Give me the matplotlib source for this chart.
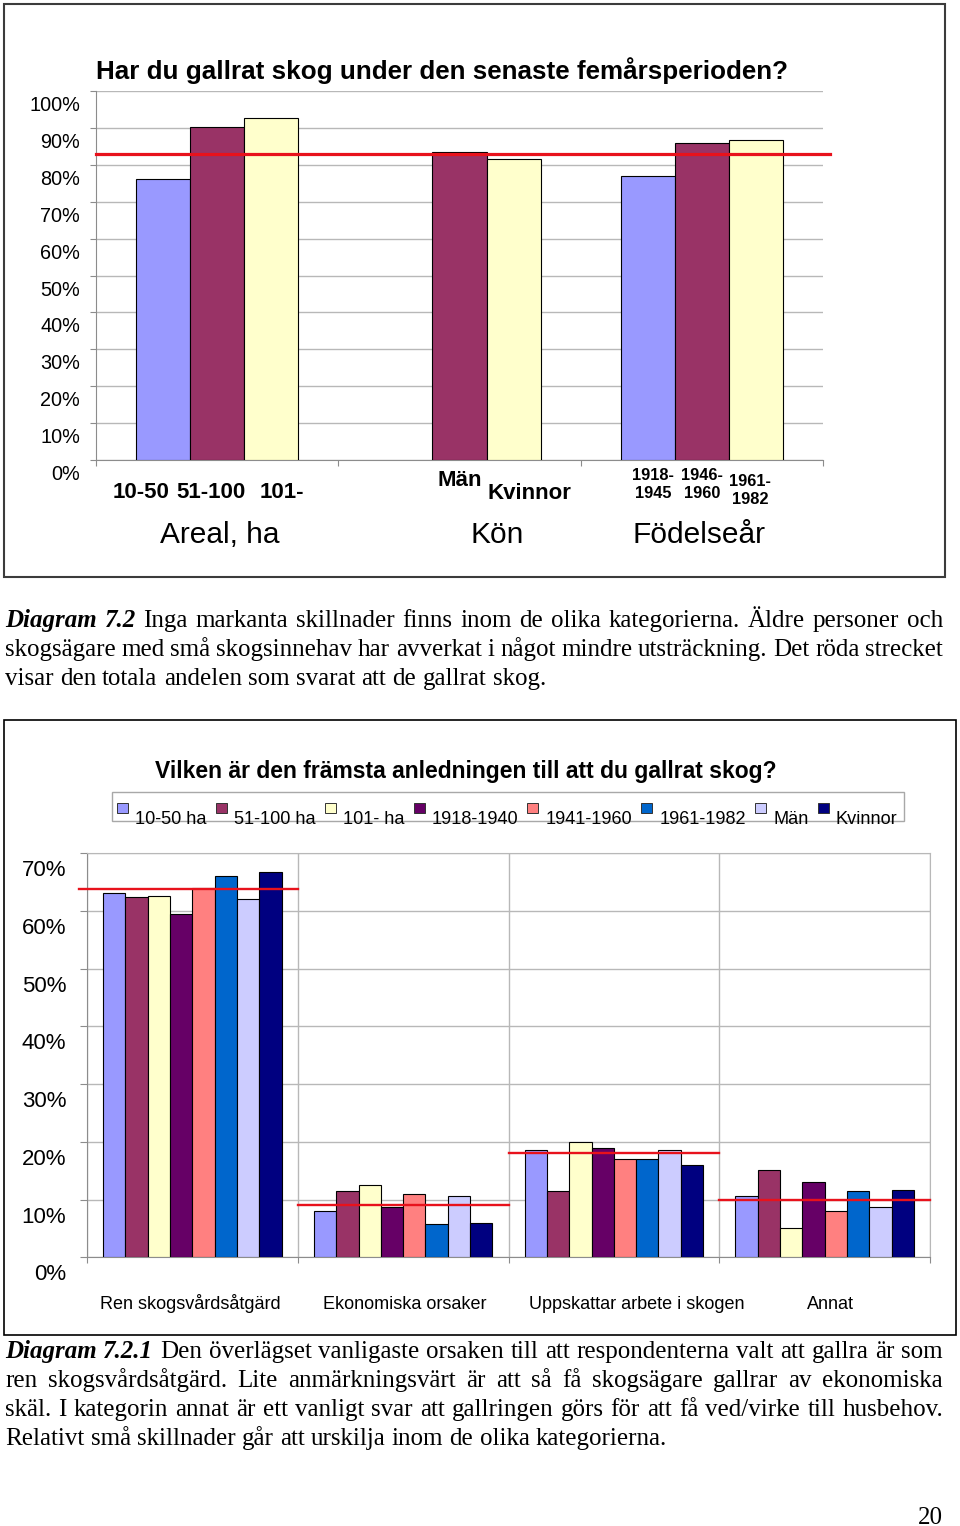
import numpy as np
import matplotlib
matplotlib.use("Agg")
import matplotlib.pyplot as plt
from matplotlib.patches import Rectangle
from matplotlib.transforms import ScaledTranslation, blended_transform_factory

plt.rcParams["font.family"] = ["Liberation Sans", "DejaVu Sans"]

W, H = 960, 1526

# ---- top chart data ----
top_title = "Har du gallrat skog under den senaste femårsperioden?"
top_groups = ["Areal, ha", "Kön", "Födelseår"]
top_labels = [["10-50", "51-100", "101-"],
              ["", "Män", "Kvinnor"],
              ["1918-\n1945", "1946-\n1960", "1961-\n1982"]]
top_values = [[76.2, 90.2, 92.8],
              [np.nan, 83.4, 81.5],
              [77.0, 85.8, 86.6]]
top_total = 83.0
top_colors = ["#9999FF", "#993366", "#FFFFCC"]

# ---- bottom chart data ----
bottom_title = "Vilken är den främsta anledningen till att du gallrat skog?"
reasons = ["Ren skogsvårdsåtgärd", "Ekonomiska orsaker",
           "Uppskattar arbete i skogen", "Annat"]
series = ["10-50 ha", "51-100 ha", "101- ha", "1918-1940",
          "1941-1960", "1961-1982", "Män", "Kvinnor"]
ha_10_50 = [63.0, 8.1, 18.6, 10.6]
ha_51_100 = [62.3, 11.5, 11.5, 15.1]
ha_101 = [62.5, 12.6, 19.9, 5.1]
born_1918_1940 = [59.5, 8.7, 19.0, 13.1]
born_1941_1960 = [63.9, 10.9, 17.1, 8.0]
born_1961_1982 = [66.0, 5.7, 17.0, 11.5]
men = [62.1, 10.6, 18.6, 8.7]
women = [66.7, 5.9, 16.0, 11.6]
totals = [63.8, 9.1, 18.0, 10.0]
series_values = [ha_10_50, ha_51_100, ha_101, born_1918_1940,
                 born_1941_1960, born_1961_1982, men, women]
series_colors = ["#9999FF", "#993366", "#FFFFCC", "#660066",
                 "#FF8080", "#0066CC", "#CCCCFF", "#000080"]

# ---- caption text ----
caption1 = [
    ([("Diagram 7.2", "bi"), (" Inga markanta skillnader finns inom de olika kategorierna. Äldre personer och", "r")], True),
    ([("skogsägare med små skogsinnehav har avverkat i något mindre utsträckning. Det röda strecket", "r")], True),
    ([("visar den totala andelen som svarat att de gallrat skog.", "r")], False),
]
caption2 = [
    ([("Diagram 7.2.1", "bi"), (" Den överlägset vanligaste orsaken till att respondenterna valt att gallra är som", "r")], True),
    ([("ren skogsvårdsåtgärd. Lite anmärkningsvärt är att så få skogsägare gallrar av ekonomiska", "r")], True),
    ([("skäl. I kategorin annat är ett vanligt svar att gallringen görs för att få ved/virke till husbehov.", "r")], True),
    ([("Relativt små skillnader går att urskilja inom de olika kategorierna.", "r")], False),
]

RED = "#e8121c"
GRID = "#b8b8b8"
AXC = "#8c8c8c"


def fy(py):
    return 1 - py / H


def rect(l, t, r, b):
    return [l / W, 1 - b / H, (r - l) / W, (b - t) / H]


def shift_ylabels(ax, dy_px):
    off = ScaledTranslation(0, -dy_px / 100, fig.dpi_scale_trans)
    for lab in ax.get_yticklabels():
        lab.set_transform(lab.get_transform() + off)


fig = plt.figure(figsize=(W / 100, H / 100), dpi=100)
fig.patch.set_facecolor("white")

# ================= top chart =================
fig.add_artist(Rectangle((4 / W, fy(577)), 941 / W, 573 / H, transform=fig.transFigure,
                         fill=False, ec="#3c3c3c", lw=1.5))
fig.text(96 / W, fy(79.5), top_title, fontsize=18.7, weight="bold", va="baseline")

ax1 = fig.add_axes(rect(96, 91, 823, 460))
x = np.arange(len(top_groups))
w = 0.2231
for k in range(3):
    vals = [top_values[g][k] for g in range(len(top_groups))]
    ax1.bar(x + (k - 1) * w, vals, w, color=top_colors[k], edgecolor="black", lw=0.8, zorder=3)
ax1.plot([-0.5, 2.53], [top_total, top_total], color=RED, lw=2.3, clip_on=False, zorder=4)

ax1.set_xlim(-0.5, 2.5)
ax1.set_ylim(0, 100)
ax1.set_yticks(range(0, 101, 10))
ax1.set_yticklabels([f"{v}%" for v in range(0, 101, 10)])
ax1.set_xticks([-0.5, 0.5, 1.5, 2.5])
ax1.set_xticklabels([])
ax1.yaxis.grid(True, color=GRID, lw=1)
ax1.set_axisbelow(True)
for s in ["top", "right"]:
    ax1.spines[s].set_visible(False)
for s in ["left", "bottom"]:
    ax1.spines[s].set_color(AXC)
ax1.tick_params(axis="y", length=4.3, color=AXC, pad=7.2, labelsize=14.3)
ax1.tick_params(axis="x", length=4.3, color=AXC)
shift_ylabels(ax1, 12.5)

tr1 = blended_transform_factory(ax1.transData, fig.transFigure)
sub_spacing = [0.29, 0.29, 0.2]
sub_shift = [-0.025, 0.0, 0.0]
sub_base = [498, 486, 480]
sub_drop = [[0, 0, 0], [0, 0, 13], [0, 0, 6]]
sub_size = [16, 16, 11.8]
for g in range(len(top_groups)):
    for k, lab in enumerate(top_labels[g]):
        if not lab:
            continue
        xc = g + sub_shift[g] + (k - 1) * sub_spacing[g]
        for li, line in enumerate(lab.split("\n")):
            yb = sub_base[g] + sub_drop[g][k] + li * 18
            ax1.text(xc, fy(yb), line, transform=tr1, ha="center", va="baseline",
                     fontsize=sub_size[g], weight="bold")

group_shift = [0.01, 0.155, -0.01]
for g, name in enumerate(top_groups):
    ax1.text(g + group_shift[g], fy(543), name, transform=tr1, ha="center",
             va="baseline", fontsize=21.5)

# ================= bottom chart =================
fig.add_artist(Rectangle((4 / W, fy(1335)), 952 / W, 615 / H, transform=fig.transFigure,
                         fill=False, ec="black", lw=1.2))
fig.text(466 / W, fy(778), bottom_title, fontsize=16.5, weight="bold", ha="center", va="baseline")

ax2 = fig.add_axes(rect(87, 853, 930, 1257.3))
x2 = np.arange(len(reasons))
w2 = 0.1058
for k, vals in enumerate(series_values):
    ax2.bar(x2 + (k - 3.5) * w2, vals, w2, color=series_colors[k], edgecolor="black",
            lw=0.8, zorder=3, label=series[k])
for i, t in enumerate(totals):
    left = i - 0.5 - (0.04 if i == 0 else 0)
    ax2.plot([left, i + 0.5], [t, t], color=RED, lw=1.7, clip_on=False, zorder=4)

ax2.set_xlim(-0.5, 3.5)
ax2.set_ylim(0, 70)
ax2.set_yticks(range(0, 71, 10))
ax2.set_yticklabels([f"{v}%" for v in range(0, 71, 10)])
ax2.set_xticks([-0.5, 0.5, 1.5, 2.5, 3.5])
ax2.set_xticklabels([])
ax2.grid(True, color=GRID, lw=1)
ax2.set_axisbelow(True)
for s in ["top", "right"]:
    ax2.spines[s].set_color(GRID)
for s in ["left", "bottom"]:
    ax2.spines[s].set_color(AXC)
ax2.tick_params(axis="y", length=5, color=AXC, pad=10, labelsize=16)
ax2.tick_params(axis="x", length=4, color=AXC)
shift_ylabels(ax2, 15)

tr2 = blended_transform_factory(ax2.transData, fig.transFigure)
reason_shift = [-0.01, 0.01, 0.11, 0.03]
for i, r in enumerate(reasons):
    ax2.text(i + reason_shift[i], fy(1309), r, transform=tr2, ha="center",
             va="baseline", fontsize=13)

renderer = fig.canvas.get_renderer()


def text_width(s, **kw):
    t = fig.text(0, 0, s, **kw)
    wd = t.get_window_extent(renderer).width
    t.remove()
    return wd


# legend drawn by hand, Excel style
LEG = 13.1
fig.add_artist(Rectangle((112 / W, fy(821)), 792 / W, 29 / H, transform=fig.transFigure,
                         fill=False, ec="#a8a8a8", lw=1))
cx = 117
for k, name in enumerate(series):
    fig.add_artist(Rectangle((cx / W, fy(813)), 11 / W, 10 / H, transform=fig.transFigure,
                             fc=series_colors[k], ec="#333333", lw=0.7))
    fig.text((cx + 18) / W, fy(824), name, fontsize=LEG, va="baseline")
    cx += 18 + text_width(name, fontsize=LEG) + 9.3

# ================= captions =================
serif = "Liberation Serif"
CAP = 18
styles = {"r": dict(family=serif, fontsize=CAP),
          "bi": dict(family=serif, fontsize=CAP, weight="bold", style="italic")}
space_w = text_width("a a", **styles["r"]) - text_width("aa", **styles["r"])


def draw_line(y_base, parts, justify, x0=5, x1=943):
    words = []
    for txt, st in parts:
        for wd in txt.split():
            words.append((wd, styles[st]))
    widths = [text_width(wd, **st) for wd, st in words]
    if justify and len(words) > 1:
        gap = (x1 - x0 - sum(widths)) / (len(words) - 1)
    else:
        gap = space_w
    xc = x0
    for (wd, st), wdt in zip(words, widths):
        fig.text(xc / W, fy(y_base), wd, va="baseline", ha="left", **st)
        xc += wdt + gap


for i, (parts, just) in enumerate(caption1):
    draw_line(627 + 29 * i, parts, just)
for i, (parts, just) in enumerate(caption2):
    draw_line(1358 + 29 * i, parts, just)

fig.text(943 / W, fy(1524), "20", family=serif, fontsize=CAP, ha="right", va="baseline")

fig.savefig("out.png", dpi=100)
